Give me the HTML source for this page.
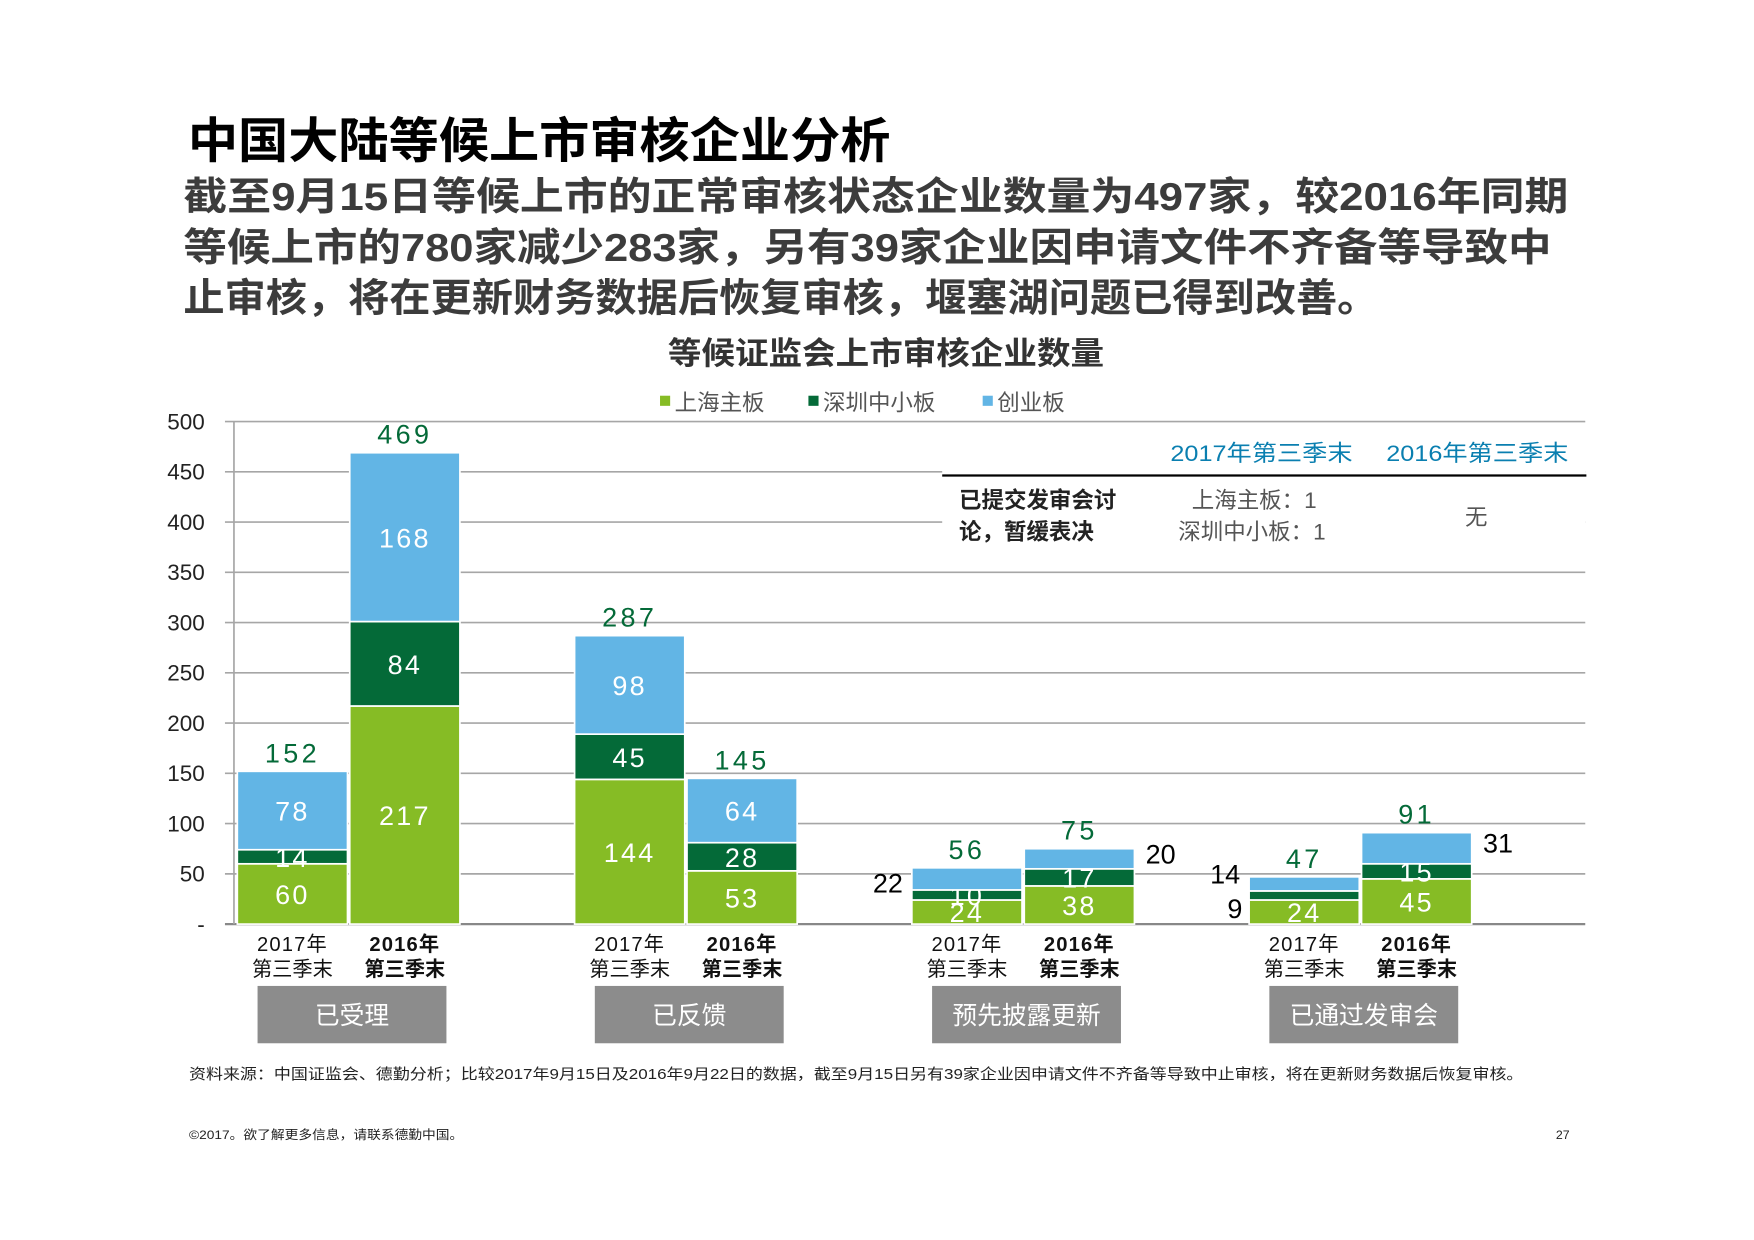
<!DOCTYPE html>
<html><head><meta charset="utf-8">
<style>
html,body{margin:0;padding:0;background:#fff;}
svg{display:block;font-family:"Liberation Sans","Noto Sans CJK SC",sans-serif;}
</style></head>
<body>
<svg id="chart" width="1754" height="1240" viewBox="0 0 1560 1103" xmlns="http://www.w3.org/2000/svg">
<text x="167" y="140" font-size="43" font-weight="bold" fill="#000" textLength="625" lengthAdjust="spacingAndGlyphs">中国大陆等候上市审核企业分析</text>
<g font-size="35" font-weight="bold" fill="#3c3c3c">
<text x="163" y="187" textLength="1232" lengthAdjust="spacingAndGlyphs">截至9月15日等候上市的正常审核状态企业数量为497家，较2016年同期</text>
<text x="163" y="232" textLength="1217" lengthAdjust="spacingAndGlyphs">等候上市的780家减少283家，另有39家企业因申请文件不齐备等导致中</text>
<text x="163" y="277" textLength="1063" lengthAdjust="spacingAndGlyphs">止审核，将在更新财务数据后恢复审核，堰塞湖问题已得到改善。</text>
</g>
<text x="594" y="324" font-size="28" font-weight="bold" fill="#333" textLength="388" lengthAdjust="spacingAndGlyphs">等候证监会上市审核企业数量</text>
<g id="legend" font-size="20" fill="#555"></g>
<g id="grid"></g>
<g id="table">
<rect x="838" y="381" width="572" height="115" fill="#fff"/>
<text x="1041" y="410" font-size="20" fill="#0a7fb0" textLength="162" lengthAdjust="spacingAndGlyphs">2017年第三季末</text>
<text x="1233" y="410" font-size="20" fill="#0a7fb0" textLength="162" lengthAdjust="spacingAndGlyphs">2016年第三季末</text>
<line x1="838" y1="423" x2="1411" y2="423" stroke="#000" stroke-width="2"/>
<text x="853" y="452" font-size="20" font-weight="bold" fill="#222">已提交发审会讨</text>
<text x="853" y="480" font-size="20" font-weight="bold" fill="#222">论，暂缓表决</text>
<text x="1060" y="452" font-size="20" fill="#555">上海主板：1</text>
<text x="1048" y="480" font-size="20" fill="#555">深圳中小板：1</text>
<text x="1313" y="467" font-size="20" fill="#555" text-anchor="middle">无</text>
</g>
<g id="bars"></g>
<g id="xlabels"></g>
<text x="168" y="960" font-size="13" fill="#222" textLength="1187" lengthAdjust="spacingAndGlyphs">资料来源：中国证监会、德勤分析；比较2017年9月15日及2016年9月22日的数据，截至9月15日另有39家企业因申请文件不齐备等导致中止审核，将在更新财务数据后恢复审核。</text>
<text x="168" y="1013" font-size="11" fill="#222" textLength="244" lengthAdjust="spacingAndGlyphs">©2017。欲了解更多信息，请联系德勤中国。</text>
<text x="1390" y="1013" font-size="11" fill="#222" text-anchor="middle">27</text>
</svg>
<script>
const categories = ["已受理","已反馈","预先披露更新","已通过发审会"];
const periods = ["2017年","2016年"];
const shanghai = [60,217,144,53,24,38,24,45];
const shenzhen = [14,84,45,28,10,17,9,15];
const chinext = [78,168,98,64,22,20,14,31];
const yTicks = [0,50,100,150,200,250,300,350,400,450,500];
const yTickLabels = ["-","50","100","150","200","250","300","350","400","450","500"];
const seriesNames = ["上海主板","深圳中小板","创业板"];

const NS = "http://www.w3.org/2000/svg";
const colors = ["#86bc25","#046a38","#62b5e5"];
const x0 = 208, x1 = 1410, yBase = 822, yTop = 375, yMax = 500;
const y = v => yBase - (v / yMax) * (yBase - yTop);
const band = 300, bw = 98;
const barX = i => x0 + Math.floor(i/2)*band + 3 + (i%2)*100;
function mk(tag, attrs, parent, txt){
  const e = document.createElementNS(NS, tag);
  for (const k in attrs) e.setAttribute(k, attrs[k]);
  if (txt !== undefined) e.textContent = txt;
  parent.appendChild(e); return e;
}
const lg = document.getElementById('legend');
const lx = [587,719,874];
seriesNames.forEach((n,i)=>{
  const r = mk('rect',{x:lx[i],y:352,width:9,height:9,fill:colors[i]},lg);
  
  
  const t = mk('text',{x:lx[i]+13,y:365},lg,n);
  
  
});
const g = document.getElementById('grid');
yTicks.forEach((v,i)=>{
  const ln = mk('line',{x1:x0-8,x2:x1,y1:y(v),y2:y(v),stroke:i===0?'#888':'#a6a6a6','stroke-width':i===0?2:1.5},g);
  
  
  const t = mk('text',{x:182,y:y(v)+7,'font-size':20,'text-anchor':'end',fill:'#222'},g,yTickLabels[i]);
  
  
});
const ax = mk('line',{x1:x0,x2:x0,y1:yTop,y2:yBase,stroke:'#a6a6a6','stroke-width':1.5},g);


const b = document.getElementById('bars');
const outside = {4:{2:'L'},5:{2:'R'},6:{1:'L1',2:'L2'},7:{2:'R'}};
for (let i=0;i<shanghai.length;i++){
  const vals = [shanghai[i],shenzhen[i],chinext[i]];
  let cum = 0; const bx = barX(i);
  vals.forEach((v,s)=>{
    const top = y(cum+v), bot = y(cum);
    const r = mk('rect',{x:bx,y:top,width:bw,height:bot-top,fill:colors[s],stroke:'#fff','stroke-width':1.5},b);
    
    
    const mid = (top+bot)/2;
    const pos = outside[i] && outside[i][s];
    let t;
    if (pos==='L') t = mk('text',{x:bx-8,y:mid+12,'font-size':24,'text-anchor':'end',fill:'#000'},b,v);
    else if (pos==='L1') t = mk('text',{x:bx-6,y:bot+16,'font-size':24,'text-anchor':'end',fill:'#000'},b,v);
    else if (pos==='L2') t = mk('text',{x:bx-8,y:top+6,'font-size':24,'text-anchor':'end',fill:'#000'},b,v);
    else if (pos==='R') t = mk('text',{x:bx+bw+10,y:mid+4,'font-size':24,'text-anchor':'start',fill:'#000'},b,v);
    else t = mk('text',{x:bx+bw/2,y:mid+9,'font-size':24,'text-anchor':'middle',fill:'#fff','letter-spacing':2},b,v);
    
    
    cum += v;
  });
  const tt = mk('text',{x:bx+bw/2,y:y(cum)-8,'font-size':24,'text-anchor':'middle',fill:'#046a38','letter-spacing':3},b,cum);
  
  
}
const xl = document.getElementById('xlabels');
for (let i=0;i<shanghai.length;i++){
  const cx = barX(i)+bw/2, bold = i%2===1;
  const a = mk('text',{x:cx,y:846,'font-size':18,'text-anchor':'middle',fill:'#111','font-weight':bold?'bold':'normal','letter-spacing':1},xl,periods[i%2]);
  
  
  const c = mk('text',{x:cx,y:868,'font-size':18,'text-anchor':'middle',fill:'#111','font-weight':bold?'bold':'normal'},xl,'第三季末');
  
  
}
categories.forEach((c,k)=>{
  const cx = x0 + k*band + 105;
  const r = mk('rect',{x:cx-84,y:877,width:168,height:51,fill:'#8c8c8c'},xl);
  
  
  const t = mk('text',{x:cx,y:911,'font-size':22,'text-anchor':'middle',fill:'#fff'},xl,c);
  
  
});
</script>
</body></html>
